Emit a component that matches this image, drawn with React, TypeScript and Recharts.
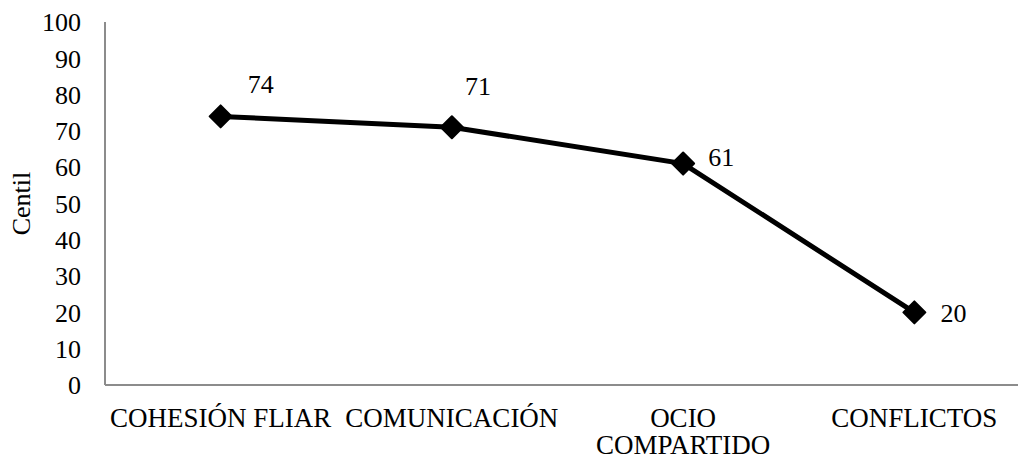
import React from "react";
import { LineChart, Line, XAxis, YAxis, Label, LabelList } from "recharts";

const categories = ["COHESIÓN FLIAR", "COMUNICACIÓN", "OCIO COMPARTIDO", "CONFLICTOS"];
const centiles = [74, 71, 61, 20];
const yTicks = [0, 10, 20, 30, 40, 50, 60, 70, 80, 90, 100];
// nudge of each value label from its marker (label centre x, baseline y)
const labelOffsets = [
  [40, -23],
  [26, -32],
  [38, 2],
  [39, 10],
];

const data = categories.map((name, i) => ({ name, value: centiles[i] }));

const FONT = "'Liberation Serif', 'Times New Roman', serif";
const FONT_SIZE = 26;
const CAT_FONT_SIZE = 27;
const AXIS_GRAY = "#8c8c8c";
const TICK_WIDTH = 231;

// word-wrap a category name to fit its band
let measureCtx: CanvasRenderingContext2D | null = null;
function wrapLabel(label: string, maxWidth: number): string[] {
  if (!measureCtx) {
    measureCtx = document.createElement("canvas").getContext("2d");
  }
  if (!measureCtx) return [label];
  measureCtx.font = `${CAT_FONT_SIZE}px ${FONT}`;
  const words = label.split(" ");
  const lines: string[] = [];
  let current = "";
  for (const w of words) {
    const next = current ? `${current} ${w}` : w;
    if (current && measureCtx.measureText(next).width > maxWidth) {
      lines.push(current);
      current = w;
    } else {
      current = next;
    }
  }
  if (current) lines.push(current);
  return lines;
}

const Diamond = (props: any) => {
  const { cx, cy } = props;
  if (cx == null || cy == null) return null;
  const r = 11;
  return (
    <polygon
      points={`${cx},${cy - r} ${cx + r},${cy} ${cx},${cy + r} ${cx - r},${cy}`}
      fill="#000"
      stroke="#000"
      strokeLinejoin="round"
      strokeWidth={2}
    />
  );
};

const ValueLabel = (props: any) => {
  const { x, y, value, index } = props;
  const [dx, dy] = labelOffsets[index] || [30, 0];
  return (
    <text x={x + dx} y={y + dy} textAnchor="middle" fontFamily={FONT} fontSize={FONT_SIZE} fill="#000">
      {value}
    </text>
  );
};

const CategoryTick = (props: any) => {
  const { x, y, payload } = props;
  const lines = wrapLabel(String(payload.value), TICK_WIDTH);
  return (
    <text x={x} y={y} textAnchor="middle" fontFamily={FONT} fontSize={CAT_FONT_SIZE} fill="#000">
      {lines.map((line, i) => (
        <tspan key={i} x={x} dy={i === 0 ? "0.66em" : "1.02em"}>
          {line}
        </tspan>
      ))}
    </text>
  );
};

export default function App() {
  return (
    <div style={{ position: "absolute", left: 0, top: 0, width: 1018, height: 460, overflow: "hidden", background: "#fff" }}>
      <LineChart width={1040} height={460} data={data} margin={{ top: 22, right: 10, bottom: 0, left: 0 }}>
        <XAxis
          dataKey="name"
          scale="band"
          height={75}
          stroke={AXIS_GRAY}
          strokeWidth={2}
          tickLine={false}
          tickSize={0}
          tickMargin={24}
          interval={0}
          tick={<CategoryTick />}
        />
        <YAxis
          domain={[0, 100]}
          ticks={yTicks}
          width={105}
          stroke={AXIS_GRAY}
          strokeWidth={2}
          tickLine={false}
          tickSize={0}
          tickMargin={24}
          tick={{ fill: "#000", fontFamily: FONT, fontSize: FONT_SIZE }}
        >
          <Label
            value="Centil"
            position="center"
            angle={-90}
            dx={-32}
            style={{ fill: "#000", fontFamily: FONT, fontSize: FONT_SIZE }}
          />
        </YAxis>
        <Line
          type="linear"
          dataKey="value"
          stroke="#000"
          strokeWidth={5}
          dot={<Diamond />}
          activeDot={false}
          isAnimationActive={false}
        >
          <LabelList dataKey="value" content={<ValueLabel />} />
        </Line>
      </LineChart>
    </div>
  );
}
